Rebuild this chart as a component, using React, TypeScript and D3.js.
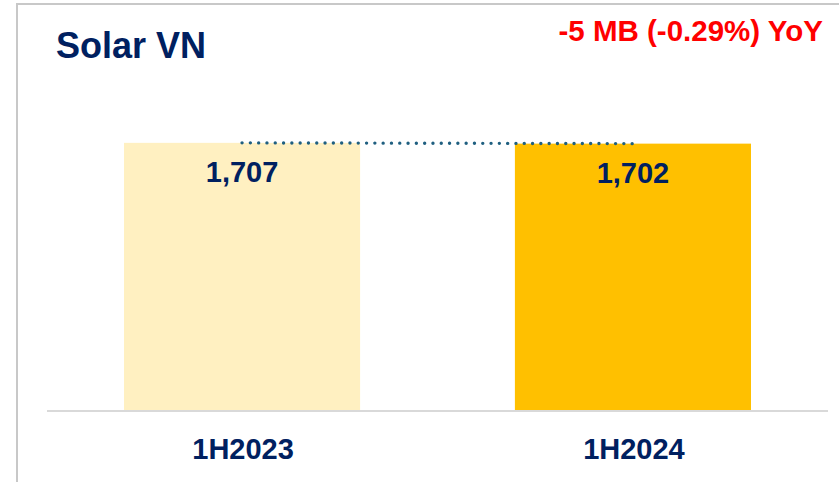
import React, { useEffect, useRef } from "react";
import * as d3 from "d3";

const categories = ["1H2023", "1H2024"];
const values = [1707, 1702];
const barColors = ["#FFF0C1", "#FFC000"];
const title = "Solar VN";
const changeLabel = "-5 MB (-0.29%) YoY";

const W = 839;
const H = 482;
const navy = "#002060";
const font = "'Liberation Sans', Arial, sans-serif";

const App = () => {
  const svgRef = useRef<SVGSVGElement>(null);

  useEffect(() => {
    const svg = d3.select(svgRef.current);
    svg.selectAll("*").remove();

    const x = d3
      .scaleBand()
      .domain(categories)
      .range([47, 828])
      .paddingInner(0.396)
      .paddingOuter(0.197);

    const y = d3.scaleLinear().domain([0, 2000]).range([410, 97]);

    // frame (left + top)
    svg
      .append("path")
      .attr("d", `M17,${H} L17,4 L${W},4`)
      .attr("fill", "none")
      .attr("stroke", "#c8c8c8")
      .attr("stroke-width", 2);

    // title
    svg
      .append("text")
      .attr("x", 56)
      .attr("y", 58)
      .attr("font-family", font)
      .attr("font-weight", "bold")
      .attr("font-size", 36)
      .attr("fill", navy)
      .text(title);

    svg
      .append("text")
      .attr("x", 823)
      .attr("y", 41)
      .attr("text-anchor", "end")
      .attr("font-family", font)
      .attr("font-weight", "bold")
      .attr("font-size", 29.5)
      .attr("fill", "#FF0000")
      .text(changeLabel);

    // bars
    svg
      .selectAll("rect.bar")
      .data(categories)
      .enter()
      .append("rect")
      .attr("class", "bar")
      .attr("x", (d) => x(d)!)
      .attr("y", (d, i) => y(values[i]))
      .attr("width", x.bandwidth())
      .attr("height", (d, i) => y(0) - y(values[i]))
      .attr("fill", (d, i) => barColors[i]);

    // baseline
    svg
      .append("line")
      .attr("x1", 47)
      .attr("x2", 828)
      .attr("y1", y(0) + 1)
      .attr("y2", y(0) + 1)
      .attr("stroke", "#d9d9d9")
      .attr("stroke-width", 2);

    // dotted connector between bar tops
    const pts = categories.map((c, i) => [x(c)! + x.bandwidth() / 2, y(values[i])] as [number, number]);
    svg
      .append("path")
      .attr("d", d3.line()(pts))
      .attr("fill", "none")
      .attr("stroke", "#1F5F80")
      .attr("stroke-width", 3.4)
      .attr("stroke-linecap", "round")
      .attr("stroke-dasharray", "0 8.3");

    // value labels
    svg
      .selectAll("text.val")
      .data(categories)
      .enter()
      .append("text")
      .attr("class", "val")
      .attr("x", (d) => x(d)! + x.bandwidth() / 2)
      .attr("y", (d, i) => y(values[i]) + 39)
      .attr("text-anchor", "middle")
      .attr("font-family", font)
      .attr("font-weight", "bold")
      .attr("font-size", 29)
      .attr("fill", navy)
      .text((d, i) => d3.format(",")(values[i]));

    // category labels
    svg
      .selectAll("text.cat")
      .data(categories)
      .enter()
      .append("text")
      .attr("class", "cat")
      .attr("x", (d) => x(d)! + x.bandwidth() / 2 + 1)
      .attr("y", 459)
      .attr("text-anchor", "middle")
      .attr("font-family", font)
      .attr("font-weight", "bold")
      .attr("font-size", 29)
      .attr("fill", navy)
      .text((d) => d);
  }, []);

  return (
    <svg
      ref={svgRef}
      width={W}
      height={H}
      style={{ position: "absolute", left: 0, top: 0, background: "#fff" }}
    />
  );
};

export default App;
